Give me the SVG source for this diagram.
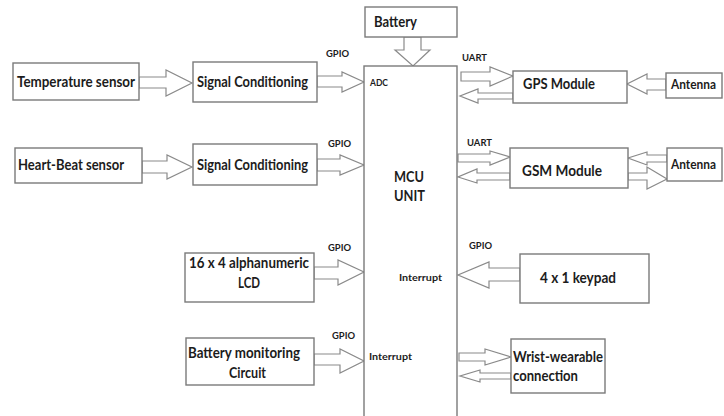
<svg xmlns="http://www.w3.org/2000/svg" width="724" height="416" viewBox="0 0 724 416">
<style>
.box{fill:#fff;stroke:#7a7a7a;stroke-width:1.4}
.arr{fill:#fff;stroke:#8a8a8a;stroke-width:1.2;stroke-linejoin:miter}
.t{font-family:Lato,"Liberation Sans",sans-serif;font-weight:bold;font-size:15px;fill:#1c1c1c}
.a{font-family:Lato,"Liberation Sans",sans-serif;font-weight:bold;font-size:13px;fill:#1c1c1c}
.s{font-family:Lato,"Liberation Sans",sans-serif;font-weight:bold;font-size:10px;fill:#1c1c1c}
.m{font-family:Lato,"Liberation Sans",sans-serif;font-weight:bold;font-size:15px;fill:#1c1c1c}
</style>
<rect width="724" height="416" fill="#fff"/>
<g id="connectors">
<polygon class="arr" points="139,77 166,77 166,70 192,83 166,96 166,88 139,88"/>
<polygon class="arr" points="317,76 342,76 342,72 364,82 342,92 342,87 317,87"/>
<polygon class="arr" points="142,161 167,161 167,155 192,167 167,179 167,173 142,173"/>
<polygon class="arr" points="317,159 340,159 340,155 364,165 340,175 340,171 317,171"/>
<polygon class="arr" points="314,267 338,267 338,260 364,272 338,285 338,279 314,279"/>
<polygon class="arr" points="314,354 340,354 340,349 364,361 340,373 340,365 314,365"/>
<polygon class="arr" points="404,37 404,50 395,50 413,66 430,50 421,50 421,37"/>
<polygon class="arr" points="461,72 490,72 490,67 513,76 490,86 490,81 461,81"/>
<polygon class="arr" points="513,93 478,93 478,89 460,96 478,103 478,99 513,99"/>
<polygon class="arr" points="666,79 647,79 647,74 627,84 647,94 647,90 666,90"/>
<polygon class="arr" points="458,154 490,154 490,151 510,157 490,165 490,162 458,162"/>
<polygon class="arr" points="510,173 477,173 477,169 458,177 477,183 477,180 510,180"/>
<polygon class="arr" points="667,155 647,155 647,152 628,158 647,165 647,162 667,162"/>
<polygon class="arr" points="628,173 647,173 647,167 667,179 647,189 647,180 628,180"/>
<polygon class="arr" points="520,268 489,268 489,262 458,275 489,288 489,281 520,281"/>
<polygon class="arr" points="459,353 485,353 485,349 511,357 485,365 485,361 459,361"/>
<polygon class="arr" points="511,373 480,373 480,370 460,376 480,382 480,379 511,379"/>
<text class="s" x="326" y="57" textLength="23" lengthAdjust="spacingAndGlyphs">GPIO</text>
<text class="s" x="328" y="147" textLength="23" lengthAdjust="spacingAndGlyphs">GPIO</text>
<text class="s" x="328" y="251" textLength="23" lengthAdjust="spacingAndGlyphs">GPIO</text>
<text class="s" x="332" y="339" textLength="23" lengthAdjust="spacingAndGlyphs">GPIO</text>
<text class="s" x="469" y="249" textLength="23" lengthAdjust="spacingAndGlyphs">GPIO</text>
<text class="s" x="462" y="61" textLength="25" lengthAdjust="spacingAndGlyphs">UART</text>
<text class="s" x="467" y="146" textLength="25" lengthAdjust="spacingAndGlyphs">UART</text>
</g>
<g id="battery"><rect class="box" x="365" y="7" width="92" height="30"/><text class="t" x="374" y="27" textLength="43" lengthAdjust="spacingAndGlyphs">Battery</text></g>
<g id="mcu"><rect class="box" x="364" y="66" width="93" height="360"/>
<text class="s" x="370" y="86" textLength="18" lengthAdjust="spacingAndGlyphs">ADC</text>
<text class="m" x="394" y="182" textLength="30" lengthAdjust="spacingAndGlyphs">MCU</text>
<text class="m" x="394" y="201" textLength="31" lengthAdjust="spacingAndGlyphs">UNIT</text>
<text class="s" x="399" y="281" textLength="43" lengthAdjust="spacingAndGlyphs">Interrupt</text>
<text class="s" x="369" y="360" textLength="43" lengthAdjust="spacingAndGlyphs">Interrupt</text>
</g>
<g id="temp"><rect class="box" x="13" y="63" width="126" height="37"/><text class="t" x="17" y="87" textLength="118" lengthAdjust="spacingAndGlyphs">Temperature sensor</text></g>
<g id="sc1"><rect class="box" x="193" y="62" width="124" height="40"/><text class="t" x="197" y="87" textLength="111" lengthAdjust="spacingAndGlyphs">Signal Conditioning</text></g>
<g id="heart"><rect class="box" x="15" y="148" width="127" height="35"/><text class="t" x="18" y="170" textLength="106" lengthAdjust="spacingAndGlyphs">Heart-Beat sensor</text></g>
<g id="sc2"><rect class="box" x="193" y="144" width="124" height="41"/><text class="t" x="197" y="170" textLength="111" lengthAdjust="spacingAndGlyphs">Signal Conditioning</text></g>
<g id="lcd"><rect class="box" x="185" y="253" width="129" height="49"/><text class="t" x="189" y="268" textLength="120" lengthAdjust="spacingAndGlyphs">16 x 4 alphanumeric</text><text class="t" x="238" y="288" textLength="22" lengthAdjust="spacingAndGlyphs">LCD</text></g>
<g id="batmon"><rect class="box" x="186" y="338" width="128" height="47"/><text class="t" x="188" y="358" textLength="112" lengthAdjust="spacingAndGlyphs">Battery monitoring</text><text class="t" x="229" y="378" textLength="37" lengthAdjust="spacingAndGlyphs">Circuit</text></g>
<g id="gps"><rect class="box" x="513" y="71" width="114" height="32"/><text class="t" x="523" y="89" textLength="72" lengthAdjust="spacingAndGlyphs">GPS Module</text></g>
<g id="antenna1"><rect class="box" x="666" y="73" width="56" height="25"/><text class="a" x="671" y="89" textLength="45" lengthAdjust="spacingAndGlyphs">Antenna</text></g>
<g id="gsm"><rect class="box" x="510" y="148" width="118" height="40"/><text class="t" x="522" y="176" textLength="80" lengthAdjust="spacingAndGlyphs">GSM Module</text></g>
<g id="antenna2"><rect class="box" x="667" y="148" width="55" height="33"/><text class="a" x="671" y="169" textLength="45" lengthAdjust="spacingAndGlyphs">Antenna</text></g>
<g id="keypad"><rect class="box" x="520" y="254" width="129" height="49"/><text class="t" x="540" y="283" textLength="76" lengthAdjust="spacingAndGlyphs">4 x 1 keypad</text></g>
<g id="wrist"><rect class="box" x="511" y="339" width="94" height="54"/><text class="t" x="513" y="362" textLength="90" lengthAdjust="spacingAndGlyphs">Wrist-wearable</text><text class="t" x="513" y="381" textLength="65" lengthAdjust="spacingAndGlyphs">connection</text></g>
</svg>
